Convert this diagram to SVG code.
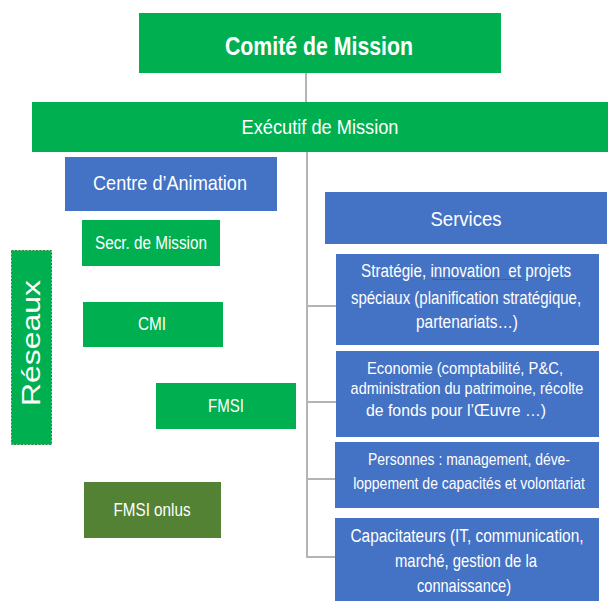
<svg xmlns="http://www.w3.org/2000/svg" width="608" height="601" viewBox="0 0 608 601">
<style>
.g{fill:#00b050}
.b{fill:#4472c4}
.o{fill:#548235}
.t{fill:#fff;font-family:"Liberation Sans Narrow","Liberation Sans",Arial,sans-serif;text-anchor:middle}
.c{stroke:#b4b4b4;stroke-width:2;fill:none}
</style>
<rect width="608" height="601" fill="#fff"/>
<g id="connectors">
<line class="c" x1="306" y1="73" x2="306" y2="102"/>
<polyline class="c" points="307,152 307,557 336,557"/>
<line class="c" x1="307" y1="306" x2="336" y2="306"/>
<line class="c" x1="307" y1="402" x2="336" y2="402"/>
<line class="c" x1="307" y1="479" x2="336" y2="479"/>
</g>
<g id="comite">
<rect class="g" x="139" y="13" width="362" height="60"/>
<text class="t" x="319" y="55" font-size="26" font-weight="bold" textLength="188" lengthAdjust="spacingAndGlyphs">Comité de Mission</text>
</g>
<g id="executif">
<rect class="g" x="32" y="102" width="576" height="50"/>
<text class="t" x="320" y="134" font-size="21" textLength="157" lengthAdjust="spacingAndGlyphs">Exécutif de Mission</text>
</g>
<g id="centre">
<rect class="b" x="65" y="157" width="212" height="54"/>
<text class="t" x="170" y="190" font-size="21" textLength="154" lengthAdjust="spacingAndGlyphs">Centre d’Animation</text>
</g>
<g id="secr">
<rect class="g" x="82" y="220" width="138" height="46"/>
<text class="t" x="151" y="249" font-size="18" textLength="112" lengthAdjust="spacingAndGlyphs">Secr. de Mission</text>
</g>
<g id="cmi">
<rect class="g" x="83" y="302" width="140" height="45"/>
<text class="t" x="152" y="330" font-size="18" textLength="28" lengthAdjust="spacingAndGlyphs">CMI</text>
</g>
<g id="fmsi">
<rect class="g" x="156" y="383" width="140" height="46"/>
<text class="t" x="226" y="412" font-size="18" textLength="36" lengthAdjust="spacingAndGlyphs">FMSI</text>
</g>
<g id="reseaux">
<rect class="g" x="11.5" y="250.5" width="40" height="194" stroke="#2e8b3e" stroke-width="1" stroke-dasharray="2,1.5"/>
<text class="t" transform="translate(40,343) rotate(-90)" x="0" y="0" font-size="25" font-family="Liberation Sans,Arial,sans-serif" textLength="126" lengthAdjust="spacingAndGlyphs">Réseaux</text>
</g>
<g id="fmsi-onlus">
<rect class="o" x="84" y="482" width="137" height="56"/>
<text class="t" x="152" y="516" font-size="18" textLength="77" lengthAdjust="spacingAndGlyphs">FMSI onlus</text>
</g>
<g id="services">
<rect class="b" x="325" y="192" width="282" height="52"/>
<text class="t" x="466" y="226" font-size="20" textLength="71" lengthAdjust="spacingAndGlyphs">Services</text>
</g>
<g id="strategie">
<rect class="b" x="336" y="254" width="263" height="91"/>
<text class="t" x="466" y="277" font-size="18" textLength="210" lengthAdjust="spacingAndGlyphs">Stratégie, innovation&#160; et projets</text>
<line x1="432" y1="279.5" x2="522" y2="279.5" stroke="#2e7d32" stroke-width="1"/>
<text class="t" transform="translate(466,304) scale(0.834,1)" x="0" y="0" font-size="18">spéciaux (planification stratégique,</text>
<text class="t" x="467" y="328" font-size="18" textLength="102" lengthAdjust="spacingAndGlyphs">partenariats…)</text>
</g>
<g id="economie">
<rect class="b" x="336" y="351" width="263" height="86"/>
<text class="t" x="465" y="374" font-size="17" textLength="196" lengthAdjust="spacingAndGlyphs">Economie (comptabilité, P&amp;C,</text>
<text class="t" transform="translate(467,394) scale(0.85,1)" x="0" y="0" font-size="17">administration du patrimoine, récolte</text>
<text class="t" x="456" y="416" font-size="17" textLength="180" lengthAdjust="spacingAndGlyphs">de fonds pour l’Œuvre …)</text>
</g>
<g id="personnes">
<rect class="b" x="335" y="442" width="264" height="66"/>
<text class="t" x="469" y="465" font-size="16" textLength="202" lengthAdjust="spacingAndGlyphs">Personnes : management, déve-</text>
<text class="t" transform="translate(469,489) scale(0.875,1)" x="0" y="0" font-size="16">loppement de capacités et volontariat</text>
</g>
<g id="capacitateurs">
<rect class="b" x="335" y="518" width="264" height="83"/>
<text class="t" transform="translate(467,542) scale(0.812,1)" x="0" y="0" font-size="19">Capacitateurs (IT, communication,</text>
<text class="t" x="466" y="567" font-size="19" textLength="142" lengthAdjust="spacingAndGlyphs">marché, gestion de la</text>
<text class="t" x="464" y="592" font-size="19" textLength="94" lengthAdjust="spacingAndGlyphs">connaissance)</text>
</g>
</svg>
